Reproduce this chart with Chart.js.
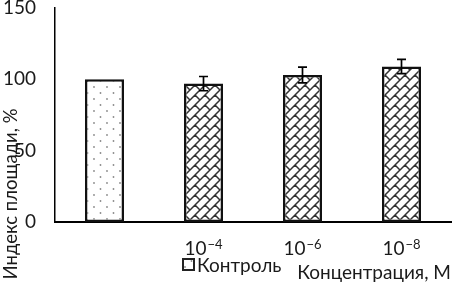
<!DOCTYPE html>
<html>
<head>
<meta charset="utf-8">
<script src="https://cdn.jsdelivr.net/npm/chart.js@4"></script>
<style>
html,body{margin:0;padding:0;background:#fff;}
canvas{display:block;}
</style>
</head>
<body>
<canvas id="c" width="455" height="282"></canvas>
<script>
const categories = ['', '10\u207B\u2074', '10\u207B\u2076', '10\u207B\u2078'];
const controlLabel = 'Контроль';
const controlValues = [100, null, null, null];
const treatedLabel = 'Концентрация';
const treatedValues = [null, 97, 103, 109];
const treatedErrors = [null, 5, 5.5, 5];
const yTicks = [0, 50, 100, 150];
const yTitle = 'Индекс площади, %';
const xTitle = 'Концентрация, М';

const FONT = 'Lato, "DejaVu Sans", sans-serif';
const FS = 19;
const SUP = { '\u207B': '\u2212', '\u2070': '0', '\u00B9': '1', '\u00B2': '2', '\u00B3': '3', '\u2074': '4', '\u2075': '5', '\u2076': '6', '\u2077': '7', '\u2078': '8', '\u2079': '9' };

function dotPattern() {
  const c = document.createElement('canvas');
  c.width = 13; c.height = 12;
  const g = c.getContext('2d');
  g.fillStyle = '#fff'; g.fillRect(0, 0, 13, 12);
  g.fillStyle = '#8a8a8a';
  g.beginPath(); g.arc(3, 3, 0.9, 0, Math.PI * 2); g.fill();
  g.beginPath(); g.arc(9.5, 9, 0.9, 0, Math.PI * 2); g.fill();
  return document.createElement('canvas').getContext('2d').createPattern(c, 'repeat');
}
function brickPattern() {
  const s = 10;
  const c = document.createElement('canvas');
  c.width = s; c.height = s;
  const g = c.getContext('2d');
  g.fillStyle = '#fff'; g.fillRect(0, 0, s, s);
  g.strokeStyle = '#333'; g.lineWidth = 1.5;
  g.beginPath();
  g.moveTo(-1, s + 1); g.lineTo(s + 1, -1);
  g.moveTo(-1, 1); g.lineTo(1, -1);
  g.moveTo(s - 1, s + 1); g.lineTo(s + 1, s - 1);
  g.moveTo(s / 2, s / 2); g.lineTo(s + 1, s + 1);
  g.moveTo(-1, -1); g.lineTo(0.5, 0.5);
  g.stroke();
  return document.createElement('canvas').getContext('2d').createPattern(c, 'repeat');
}
const dots = dotPattern();
const bricks = brickPattern();

const errorBars = {
  id: 'errorBars',
  afterDatasetsDraw(chart) {
    const meta = chart.getDatasetMeta(1);
    const y = chart.scales.y;
    const ctx = chart.ctx;
    ctx.save();
    ctx.strokeStyle = '#000';
    ctx.lineWidth = 1.7;
    treatedValues.forEach((v, i) => {
      const e = treatedErrors[i];
      if (v == null || e == null) return;
      const x = meta.data[i].x;
      const t = y.getPixelForValue(v + e);
      const b = y.getPixelForValue(v - e);
      ctx.beginPath();
      ctx.moveTo(x, t); ctx.lineTo(x, b);
      ctx.moveTo(x - 4.5, t); ctx.lineTo(x + 4.5, t);
      ctx.moveTo(x - 4.5, b); ctx.lineTo(x + 4.5, b);
      ctx.stroke();
    });
    ctx.restore();
  }
};

const xLabels = {
  id: 'xLabels',
  afterDraw(chart) {
    const ctx = chart.ctx;
    const xs = chart.scales.x;
    ctx.save();
    ctx.fillStyle = '#1a1a1a';
    ctx.textBaseline = 'alphabetic';
    ctx.textAlign = 'left';
    chart.data.labels.forEach((lab, i) => {
      if (!lab) return;
      let base = '', exp = '';
      for (const ch of lab) { if (SUP[ch] !== undefined) exp += SUP[ch]; else base += ch; }
      const bigF = FS + 'px ' + FONT, smallF = '13px ' + FONT;
      ctx.font = bigF; const wb = ctx.measureText(base).width;
      ctx.font = smallF; const we = ctx.measureText(exp).width;
      const x0 = xs.getPixelForTick(i) - (wb + we + 1) / 2;
      ctx.font = bigF; ctx.fillText(base, x0, 255);
      ctx.font = smallF; ctx.fillText(exp, x0 + wb + 1, 249);
    });
    ctx.restore();
  }
};

const extras = {
  id: 'extras',
  afterDraw(chart) {
    const ctx = chart.ctx;
    ctx.save();
    ctx.fillStyle = '#1a1a1a';
    ctx.font = '18.5px ' + FONT;
    ctx.textAlign = 'center';
    ctx.textBaseline = 'middle';
    ctx.translate(11, 194);
    ctx.rotate(-Math.PI / 2);
    ctx.fillText(yTitle, 0, 0);
    ctx.restore();
    const ds = chart.data.datasets[0];
    ctx.save();
    const bx = 182, by = 258, bs = 13;
    ctx.fillStyle = ds.backgroundColor;
    ctx.fillRect(bx, by, bs, bs);
    ctx.strokeStyle = '#222';
    ctx.lineWidth = 2;
    ctx.strokeRect(bx + 1, by + 1, bs - 2, bs - 2);
    ctx.fillStyle = '#1a1a1a';
    ctx.font = FS + 'px ' + FONT;
    ctx.textAlign = 'left';
    ctx.textBaseline = 'middle';
    ctx.fillText(ds.label, bx + bs + 2, by + bs / 2 + 1);
    ctx.restore();
  }
};

new Chart(document.getElementById('c'), {
  type: 'bar',
  data: {
    labels: categories,
    datasets: [
      { label: controlLabel, data: controlValues, backgroundColor: dots, borderColor: '#111', borderWidth: 2.5, borderSkipped: false, grouped: false, barPercentage: 0.394, categoryPercentage: 1 },
      { label: treatedLabel, data: treatedValues, backgroundColor: bricks, borderColor: '#111', borderWidth: 2.5, borderSkipped: false, grouped: false, barPercentage: 0.394, categoryPercentage: 1 }
    ]
  },
  options: {
    responsive: false,
    animation: false,
    layout: { padding: { top: 8, right: 4, left: 0, bottom: 0 } },
    plugins: { legend: { display: false }, tooltip: { enabled: false } },
    scales: {
      x: {
        grid: { display: false, drawTicks: false },
        border: { display: true, color: '#000', width: 2 },
        ticks: { display: false },
        title: { display: true, text: xTitle, align: 'end', color: '#1a1a1a', font: { family: FONT, size: FS, lineHeight: 1 }, padding: { top: 0, bottom: 0 } },
        afterFit(s) { s.height = 60; s.paddingLeft = 0; s.paddingRight = 0; }
      },
      y: {
        min: 0, max: 150,
        afterBuildTicks(s) { s.ticks = yTicks.map(v => ({ value: v })); },
        grid: { display: false, drawTicks: false },
        border: { display: true, color: '#000', width: 1.5 },
        ticks: { font: { family: FONT, size: FS }, color: '#1a1a1a', padding: 19 },
        afterFit(s) { s.width = 55; s.paddingTop = 0; s.paddingBottom = 0; }
      }
    }
  },
  plugins: [errorBars, xLabels, extras]
});
</script>
</body>
</html>
